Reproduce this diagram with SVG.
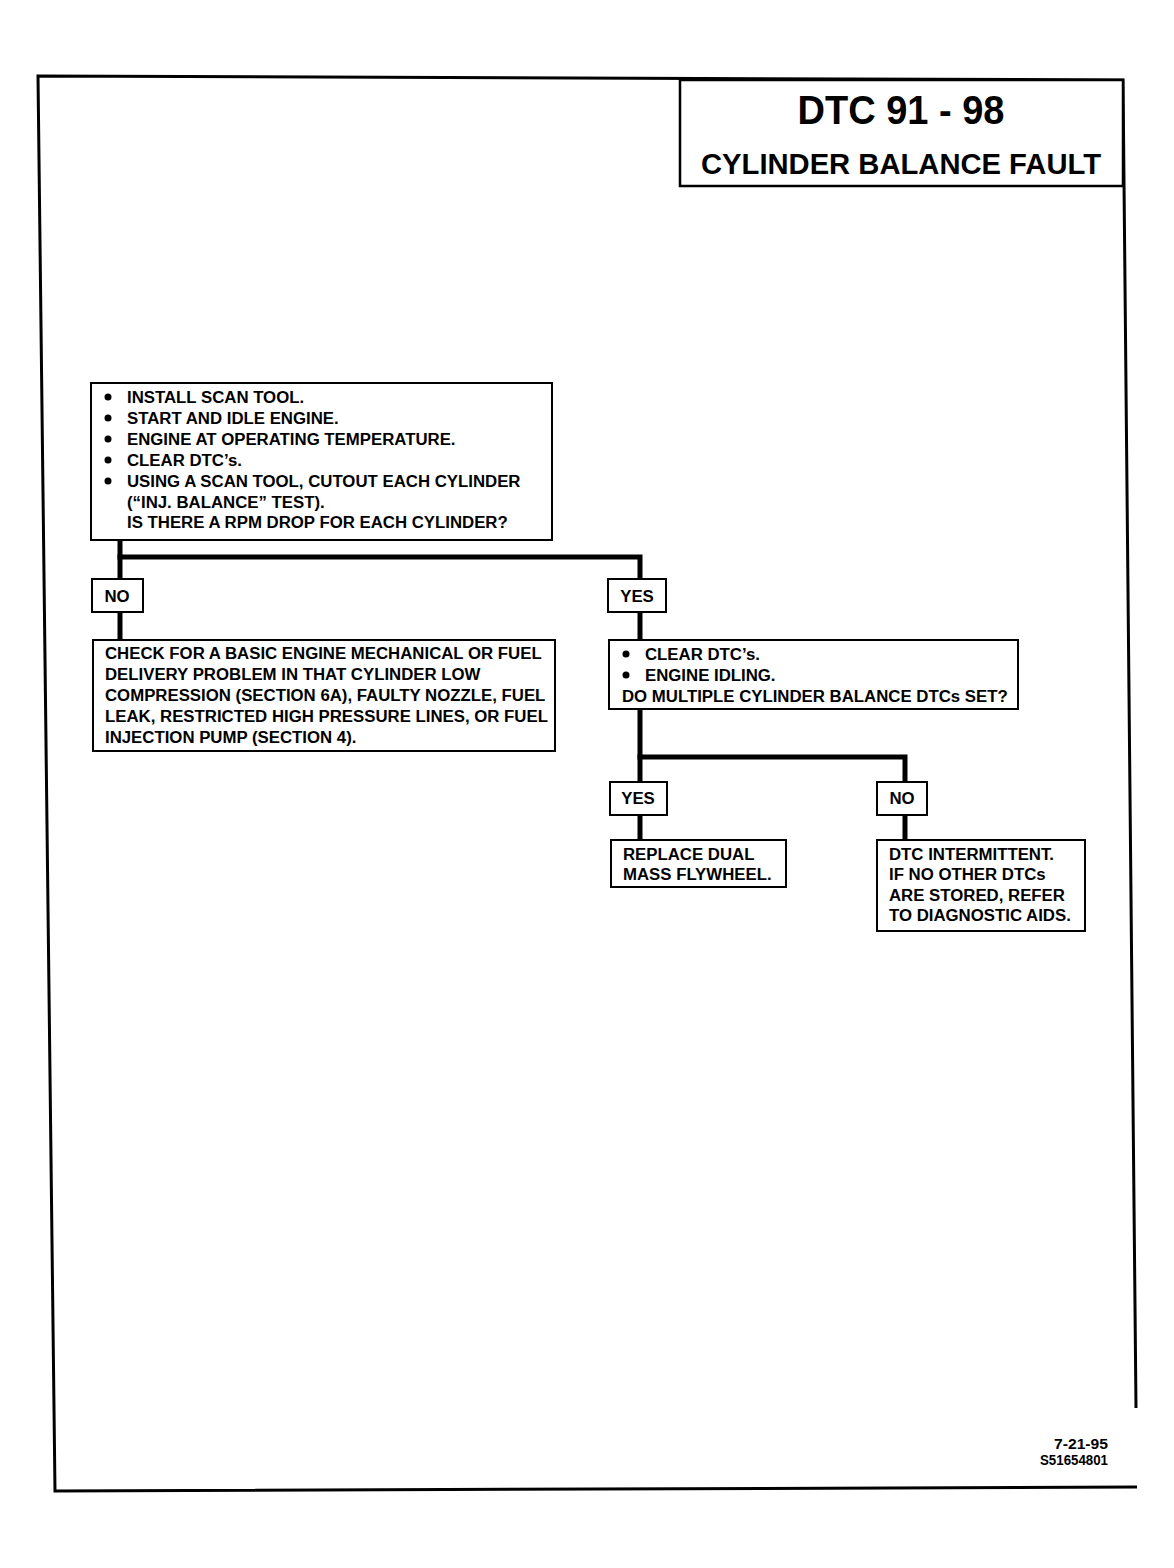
<svg xmlns="http://www.w3.org/2000/svg" width="1174" height="1568" viewBox="0 0 1174 1568">
<style>
  .t { font-family: "Liberation Sans", Arial, sans-serif; font-weight: bold; font-size: 16.8px; fill: #000; }
  .c { text-anchor: middle; }
  .h1 { font-size: 40px; }
  .h2 { font-size: 29px; }
  .f { font-size: 14px; text-anchor: end; }
  .box { fill: #fff; stroke: #000; stroke-width: 2; }
  .conn { fill: none; stroke: #000; stroke-width: 5; stroke-linecap: square; stroke-linejoin: miter; }
  .frame { fill: none; stroke: #000; stroke-width: 3; }
  .b { fill: #000; }
</style>
<rect width="1174" height="1568" fill="#fff"/>

<g id="frame">
  <polyline class="frame" points="1136,1408 1123,80 38,76 55,1491 1137,1487"/>
</g>

<g id="title">
  <rect x="680" y="80" width="443" height="106" fill="#fff" stroke="#000" stroke-width="2.5"/>
  <text class="t c h1" x="901" y="124" textLength="207" lengthAdjust="spacingAndGlyphs">DTC 91 - 98</text>
  <text class="t c h2" x="901" y="174" textLength="400" lengthAdjust="spacingAndGlyphs">CYLINDER BALANCE FAULT</text>
</g>

<g id="connectors">
  <polyline class="conn" points="120,540 120,557 640,557 640,580"/>
  <line class="conn" x1="120" y1="557" x2="120" y2="640"/>
  <line class="conn" x1="640" y1="612" x2="640" y2="640"/>
  <polyline class="conn" points="640,709 640,757 905,757 905,783"/>
  <line class="conn" x1="640" y1="757" x2="640" y2="840"/>
  <line class="conn" x1="905" y1="815" x2="905" y2="840"/>
</g>

<g id="start">
  <rect class="box" x="91" y="383" width="461" height="157"/>
  <circle class="b" cx="108" cy="397" r="3.5"/>
  <circle class="b" cx="108" cy="418" r="3.5"/>
  <circle class="b" cx="108" cy="439" r="3.5"/>
  <circle class="b" cx="108" cy="460" r="3.5"/>
  <circle class="b" cx="108" cy="481" r="3.5"/>
  <text class="t" x="127" y="403">INSTALL SCAN TOOL.</text>
  <text class="t" x="127" y="424">START AND IDLE ENGINE.</text>
  <text class="t" x="127" y="445">ENGINE AT OPERATING TEMPERATURE.</text>
  <text class="t" x="127" y="466">CLEAR DTC’s.</text>
  <text class="t" x="127" y="487">USING A SCAN TOOL, CUTOUT EACH CYLINDER</text>
  <text class="t" x="127" y="508">(“INJ. BALANCE” TEST).</text>
  <text class="t" x="127" y="528">IS THERE A RPM DROP FOR EACH CYLINDER?</text>
</g>

<g id="no1">
  <rect class="box" x="92" y="579" width="51" height="33"/>
  <text class="t c" x="117" y="602">NO</text>
</g>

<g id="yes1">
  <rect class="box" x="608" y="579" width="58" height="33"/>
  <text class="t c" x="637" y="602">YES</text>
</g>

<g id="check">
  <rect class="box" x="93" y="640" width="462" height="111"/>
  <text class="t" x="105" y="659">CHECK FOR A BASIC ENGINE MECHANICAL OR FUEL</text>
  <text class="t" x="105" y="680">DELIVERY PROBLEM IN THAT CYLINDER LOW</text>
  <text class="t" x="105" y="701">COMPRESSION (SECTION 6A), FAULTY NOZZLE, FUEL</text>
  <text class="t" x="105" y="722">LEAK, RESTRICTED HIGH PRESSURE LINES, OR FUEL</text>
  <text class="t" x="105" y="743">INJECTION PUMP (SECTION 4).</text>
</g>

<g id="clear">
  <rect class="box" x="609" y="640" width="409" height="69"/>
  <circle class="b" cx="626" cy="654" r="3.5"/>
  <circle class="b" cx="626" cy="675" r="3.5"/>
  <text class="t" x="645" y="660">CLEAR DTC’s.</text>
  <text class="t" x="645" y="681">ENGINE IDLING.</text>
  <text class="t" x="622" y="702">DO MULTIPLE CYLINDER BALANCE DTCs SET?</text>
</g>

<g id="yes2">
  <rect class="box" x="610" y="782" width="57" height="33"/>
  <text class="t c" x="638" y="804">YES</text>
</g>

<g id="no2">
  <rect class="box" x="877" y="782" width="50" height="33"/>
  <text class="t c" x="902" y="804">NO</text>
</g>

<g id="replace">
  <rect class="box" x="611" y="840" width="175" height="47"/>
  <text class="t" x="623" y="860">REPLACE DUAL</text>
  <text class="t" x="623" y="880">MASS FLYWHEEL.</text>
</g>

<g id="intermittent">
  <rect class="box" x="877" y="840" width="208" height="91"/>
  <text class="t" x="889" y="860">DTC INTERMITTENT.</text>
  <text class="t" x="889" y="880">IF NO OTHER DTCs</text>
  <text class="t" x="889" y="901">ARE STORED, REFER</text>
  <text class="t" x="889" y="921">TO DIAGNOSTIC AIDS.</text>
</g>

<g id="footer">
  <text class="t f" x="1108" y="1449" textLength="54" lengthAdjust="spacingAndGlyphs">7-21-95</text>
  <text class="t f" x="1108" y="1465" textLength="68" lengthAdjust="spacingAndGlyphs">S51654801</text>
</g>
</svg>
